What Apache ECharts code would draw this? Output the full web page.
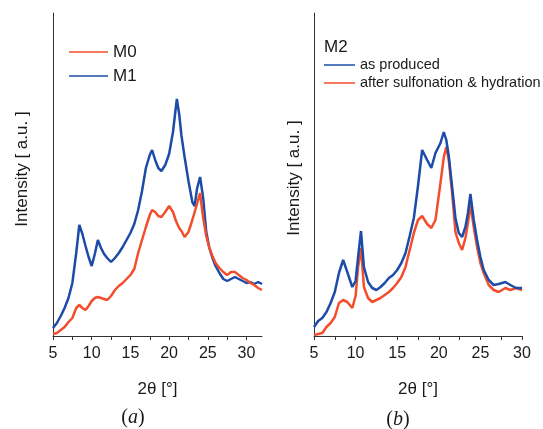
<!DOCTYPE html>
<html>
<head>
<meta charset="utf-8">
<script src="https://cdn.jsdelivr.net/npm/echarts@6/dist/echarts.min.js"></script>
<style>
  html, body { margin: 0; padding: 0; background: #fff; }
  #chart { width: 543px; height: 429px; }
</style>
</head>
<body>
<div id="chart"></div>
<script>
// Panel (a): XRD patterns of M0 and M1 (2θ in degrees, intensity in arbitrary units)
const thetaA = [5, 5.5, 6, 6.5, 7, 7.5, 8, 8.4, 8.8, 9.2, 9.6, 10, 10.4, 10.8, 11.2, 11.6, 12, 12.5, 13, 13.5,
  14, 14.5, 15, 15.5, 16, 16.5, 17, 17.5, 17.8, 18.2, 18.6, 19, 19.5, 20, 20.5, 20.8, 21, 21.3, 21.6, 22,
  22.5, 23, 23.3, 23.6, 24, 24.4, 24.8, 25.2, 25.6, 26, 26.5, 27, 27.5, 28, 28.5, 29, 29.5, 30, 30.5, 31, 31.5, 32];
const intensityM1 = [8, 13, 20, 28, 38, 53, 83, 111, 102, 90, 79, 70, 82, 96, 88, 82, 78, 74, 78, 83,
  89, 96, 103, 112, 126, 145, 168, 181, 186, 176, 168, 165, 171, 182, 204, 224, 237, 222, 200, 179,
  155, 134, 130, 147, 159, 138, 104, 88, 78, 70, 63, 57, 55, 57, 59, 57, 55, 53, 54, 52, 54, 52];
const intensityM0 = [2, 3, 6, 9, 14, 18, 28, 31, 28, 26, 30, 35, 38, 39, 38, 37, 36, 40, 46, 50,
  53, 57, 61, 67, 83, 96, 109, 121, 126, 124, 120, 119, 124, 130, 124, 117, 113, 108, 105, 99,
  104, 116, 124, 132, 143, 118, 100, 88, 80, 73, 68, 64, 61, 64, 64, 61, 58, 56, 53, 51, 48, 46];

// Panel (b): M2 as produced vs. after sulfonation & hydration
const thetaB = [5, 5.5, 6, 6.5, 7, 7.5, 8, 8.5, 9, 9.6, 10, 10.3, 10.65, 11, 11.5, 12, 12.5, 13, 13.5, 14,
  14.5, 15, 15.5, 16, 16.5, 17, 17.5, 18, 18.6, 19.1, 19.6, 20.2, 20.6, 20.9, 21.2, 21.6, 22, 22.4, 22.8,
  23.2, 23.5, 23.8, 24.2, 24.6, 25, 25.4, 26, 26.6, 27.2, 28, 28.6, 29.3, 30];
const intensityAsProduced = [9, 15, 18, 24, 33, 44, 63, 76, 64, 49, 55, 79, 105, 69, 54, 48, 46, 49, 53, 58,
  61, 66, 73, 83, 100, 118, 150, 186, 176, 168, 183, 193, 204, 196, 180, 149, 118, 103, 99,
  109, 123, 142, 116, 96, 79, 66, 56, 51, 52, 54, 51, 48, 48];
const intensitySulfonated = [1, 2, 3, 9, 13, 19, 33, 36, 34, 28, 40, 69, 88, 49, 38, 34, 36, 38, 41, 44,
  48, 53, 59, 69, 86, 103, 116, 120, 112, 108, 116, 153, 179, 189, 176, 143, 104, 93, 86,
  98, 113, 131, 109, 89, 73, 63, 51, 46, 44, 48, 46, 48, 46];

// Axis ticks and labels
const tickValuesA = [5, 7.5, 10, 12.5, 15, 17.5, 20, 22.5, 25, 27.5, 30];
const labelValuesA = [5, 10, 15, 20, 25, 30];
const tickValuesB = [5, 7.5, 10, 12.5, 15, 17.5, 20, 22.5, 25, 27.5, 30];
const labelValuesB = [5, 10, 15, 20, 25, 30];

const BLUE = '#1c4ca8';
const RED = '#f24e2c';
const AXIS = '#333';
const TEXT = '#1a1a1a';
const SANS = '"Liberation Sans", Arial, sans-serif';
const SERIF = '"Liberation Serif", "Times New Roman", serif';

const pairs = (xs, ys) => xs.map((x, i) => [x, ys[i]]);

function xAxisFor(gridIndex, max, ticks, labels) {
  return {
    type: 'value', gridIndex, min: 5, max,
    name: '2θ [°]', nameLocation: 'middle', nameGap: 45,
    nameTextStyle: { fontFamily: SANS, fontSize: 17, color: TEXT },
    axisLine: { show: true, lineStyle: { color: AXIS, width: 1 } },
    axisTick: { show: true, inside: false, length: 4, customValues: ticks, lineStyle: { color: AXIS } },
    axisLabel: { customValues: labels, margin: 10, fontFamily: SANS, fontSize: 16, color: TEXT },
    splitLine: { show: false }
  };
}
function yAxisFor(gridIndex) {
  return {
    type: 'value', gridIndex, min: 0, max: 323,
    axisLine: { show: true, lineStyle: { color: AXIS, width: 1 } },
    axisTick: { show: false }, axisLabel: { show: false }, splitLine: { show: false }
  };
}
function lineSeries(name, xi, data, color, z) {
  return {
    name, type: 'line', xAxisIndex: xi, yAxisIndex: xi, data, z,
    showSymbol: false, symbol: 'none', smooth: false,
    lineStyle: { color, width: 2.5 }, itemStyle: { color }
  };
}
function legendRow(x1, x2, y, color, label, tx, size) {
  return [
    { type: 'line', shape: { x1, y1: y, x2, y2: y }, style: { stroke: color, lineWidth: 1.5 } },
    { type: 'text', x: tx, y, style: { text: label, fontFamily: SANS, fontSize: size, fill: TEXT, align: 'left', verticalAlign: 'middle' } }
  ];
}

const chart = echarts.init(document.getElementById('chart'), null, { renderer: 'canvas' });
chart.setOption({
  animation: false,
  backgroundColor: '#fff',
  grid: [
    { left: 53, top: 13, width: 209, height: 323 },
    { left: 314, top: 13, width: 208, height: 323 }
  ],
  xAxis: [xAxisFor(0, 32, tickValuesA, labelValuesA), xAxisFor(1, 30, tickValuesB, labelValuesB)],
  yAxis: [yAxisFor(0), yAxisFor(1)],
  series: [
    lineSeries('M1', 0, pairs(thetaA, intensityM1), BLUE, 2),
    lineSeries('M0', 0, pairs(thetaA, intensityM0), RED, 3),
    lineSeries('after sulfonation & hydration', 1, pairs(thetaB, intensitySulfonated), RED, 2),
    lineSeries('as produced', 1, pairs(thetaB, intensityAsProduced), BLUE, 3)
  ],
  graphic: [
    { type: 'text', x: 22, y: 169, rotation: Math.PI / 2,
      style: { text: 'Intensity [ a.u. ]', fontFamily: SANS, fontSize: 17, fill: TEXT, align: 'center', verticalAlign: 'middle' } },
    { type: 'text', x: 294, y: 178, rotation: Math.PI / 2,
      style: { text: 'Intensity [ a.u. ]', fontFamily: SANS, fontSize: 17, fill: TEXT, align: 'center', verticalAlign: 'middle' } },
    { type: 'text', x: 133, y: 418,
      style: { text: '{p|(}{i|a}{p|)}', align: 'center', verticalAlign: 'middle',
        rich: { p: { fontFamily: SERIF, fontSize: 20, fill: TEXT }, i: { fontFamily: SERIF, fontSize: 20, fontStyle: 'italic', fill: TEXT } } } },
    { type: 'text', x: 398, y: 420,
      style: { text: '{p|(}{i|b}{p|)}', align: 'center', verticalAlign: 'middle',
        rich: { p: { fontFamily: SERIF, fontSize: 20, fill: TEXT }, i: { fontFamily: SERIF, fontSize: 20, fontStyle: 'italic', fill: TEXT } } } },
    ...legendRow(69, 108, 52, RED, 'M0', 113, 17),
    ...legendRow(69, 108, 76, BLUE, 'M1', 113, 17),
    { type: 'text', x: 324, y: 47, style: { text: 'M2', fontFamily: SANS, fontSize: 17, fill: TEXT, align: 'left', verticalAlign: 'middle' } },
    ...legendRow(324, 355, 65, BLUE, 'as produced', 360, 14.5),
    ...legendRow(324, 355, 83, RED, 'after sulfonation & hydration', 360, 14.5)
  ]
});
</script>
</body>
</html>
